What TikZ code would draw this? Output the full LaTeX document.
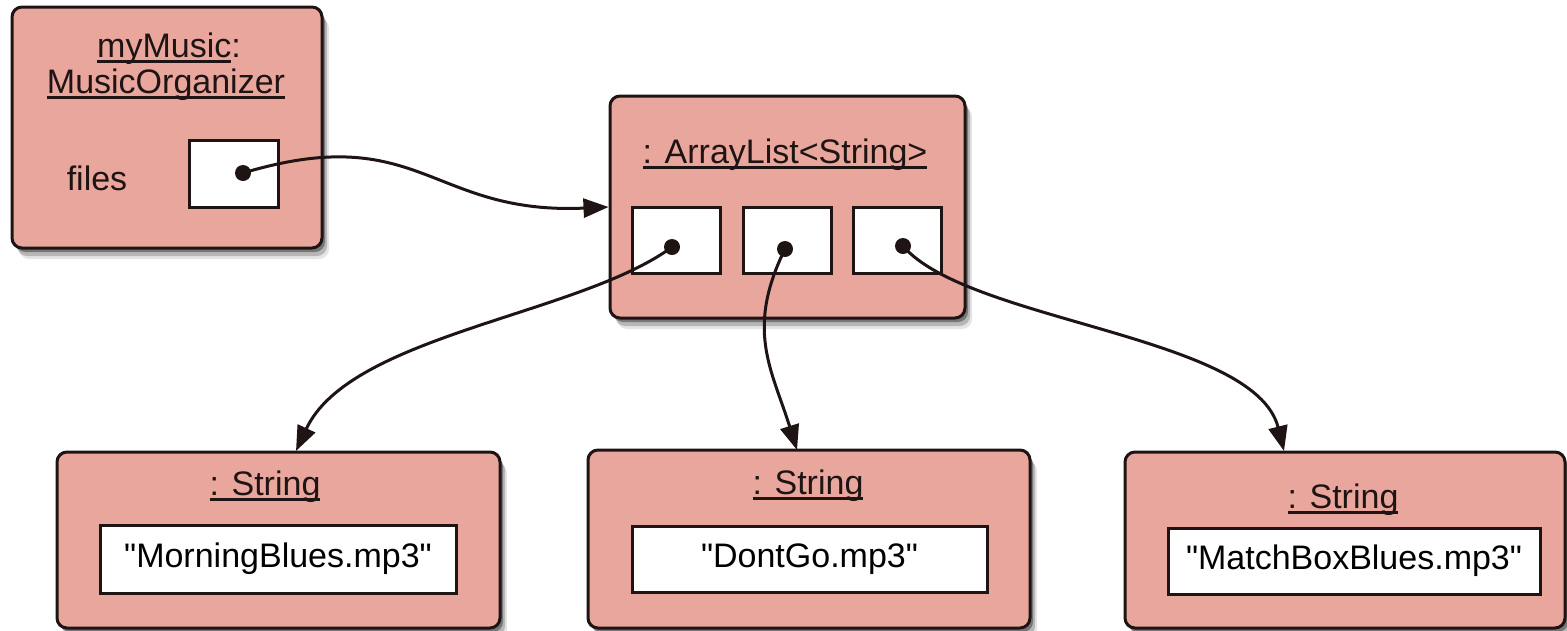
\documentclass[tikz,border=0pt]{standalone}
\usepackage{fontspec}
\setmainfont{Liberation Sans}[Ligatures=TeXOff]
\usetikzlibrary{arrows.meta,shadows}
\newcommand\myul[1]{\setbox0\hbox{#1}\rlap{\rule[-5.5pt]{\wd0}{2.4pt}}\box0}
\definecolor{objpink}{RGB}{233,166,156}
\definecolor{edgec}{RGB}{30,20,20}
\begin{document}
\begin{tikzpicture}[x=1pt,y=-1pt,
  font=\fontsize{34}{40}\selectfont,
  obj/.style={draw=edgec, line width=3pt, fill=objpink, rounded corners=10pt, inner sep=0pt,
    drop shadow={shadow xshift=3pt,shadow yshift=-4pt,opacity=.35,fill=black},
    drop shadow={shadow xshift=5pt,shadow yshift=-8pt,opacity=.2,fill=black},
    drop shadow={shadow xshift=7pt,shadow yshift=-11pt,opacity=.1,fill=black}},
  slot/.style={draw=edgec, line width=3pt, fill=white, inner sep=0pt},
  dotn/.style={circle, fill=edgec, inner sep=0pt, minimum size=16pt},
  lbl/.style={anchor=base, text=edgec, inner sep=0pt},
  conn/.style={draw=edgec, line width=3pt, -{Triangle[length=25pt,width=19pt]}}
]
\useasboundingbox (0,0) rectangle (1567,630);

% MusicOrganizer object
\node[obj, minimum width=310pt, minimum height=241pt] (mm) at (167,127.5) {};
\node[lbl] (mmt1) at (169,57) {\myul{myMusic}:};
\node[lbl] (mmt2) at (166,93) {\myul{MusicOrganizer}};
\node[lbl] (files) at (97,190) {files};
\node[slot, minimum width=89pt, minimum height=67pt] (fslot) at (233.5,173.5) {};
\node[dotn] (fdot) at (243,173) {};

% ArrayList object
\node[obj, minimum width=355pt, minimum height=222pt] (al) at (787.5,207) {};
\node[lbl] (alt) at (785,163) {\myul{: ArrayList<String>}};
\node[slot, minimum width=88pt, minimum height=66pt] (s1) at (676,240) {};
\node[slot, minimum width=88pt, minimum height=66pt] (s2) at (787,240) {};
\node[slot, minimum width=88pt, minimum height=66pt] (s3) at (897.5,240) {};
\node[dotn] (d1) at (672,247) {};
\node[dotn] (d2) at (785,249) {};
\node[dotn] (d3) at (903,246) {};

% String objects
\node[obj, minimum width=443pt, minimum height=176pt] (sa) at (278.5,540) {};
\node[lbl] (sat) at (265,495) {\myul{: String}};
\node[slot, minimum width=356pt, minimum height=68pt] (va) at (278,559) {"MorningBlues.mp3"};

\node[obj, minimum width=442pt, minimum height=178pt] (sb) at (809,539) {};
\node[lbl] (sbt) at (808,494) {\myul{: String}};
\node[slot, minimum width=355pt, minimum height=66pt] (vb) at (809.5,559) {"DontGo.mp3"};

\node[obj, minimum width=440pt, minimum height=176pt] (sc) at (1345,540) {};
\node[lbl] (sct) at (1343,508) {\myul{: String}};
\node[slot, minimum width=372pt, minimum height=66pt] (vc) at (1354,561) {"MatchBoxBlues.mp3"};

% arrow ends
\coordinate (ta) at (296,451);
\coordinate (tb) at (797,450);
\coordinate (tc) at (1284,451);

% connectors
\draw[conn] (fdot.center) .. controls (420,120) and (430,215) .. (al.west);
\draw[conn] (d1.center) .. controls (580,315) and (350,335) .. (ta);
\draw[conn] (d2.center) .. controls (745,330) and (772,370) .. (tb);
\draw[conn] (d3.center) .. controls (968,322) and (1255,335) .. (tc);
\end{tikzpicture}
\end{document}
